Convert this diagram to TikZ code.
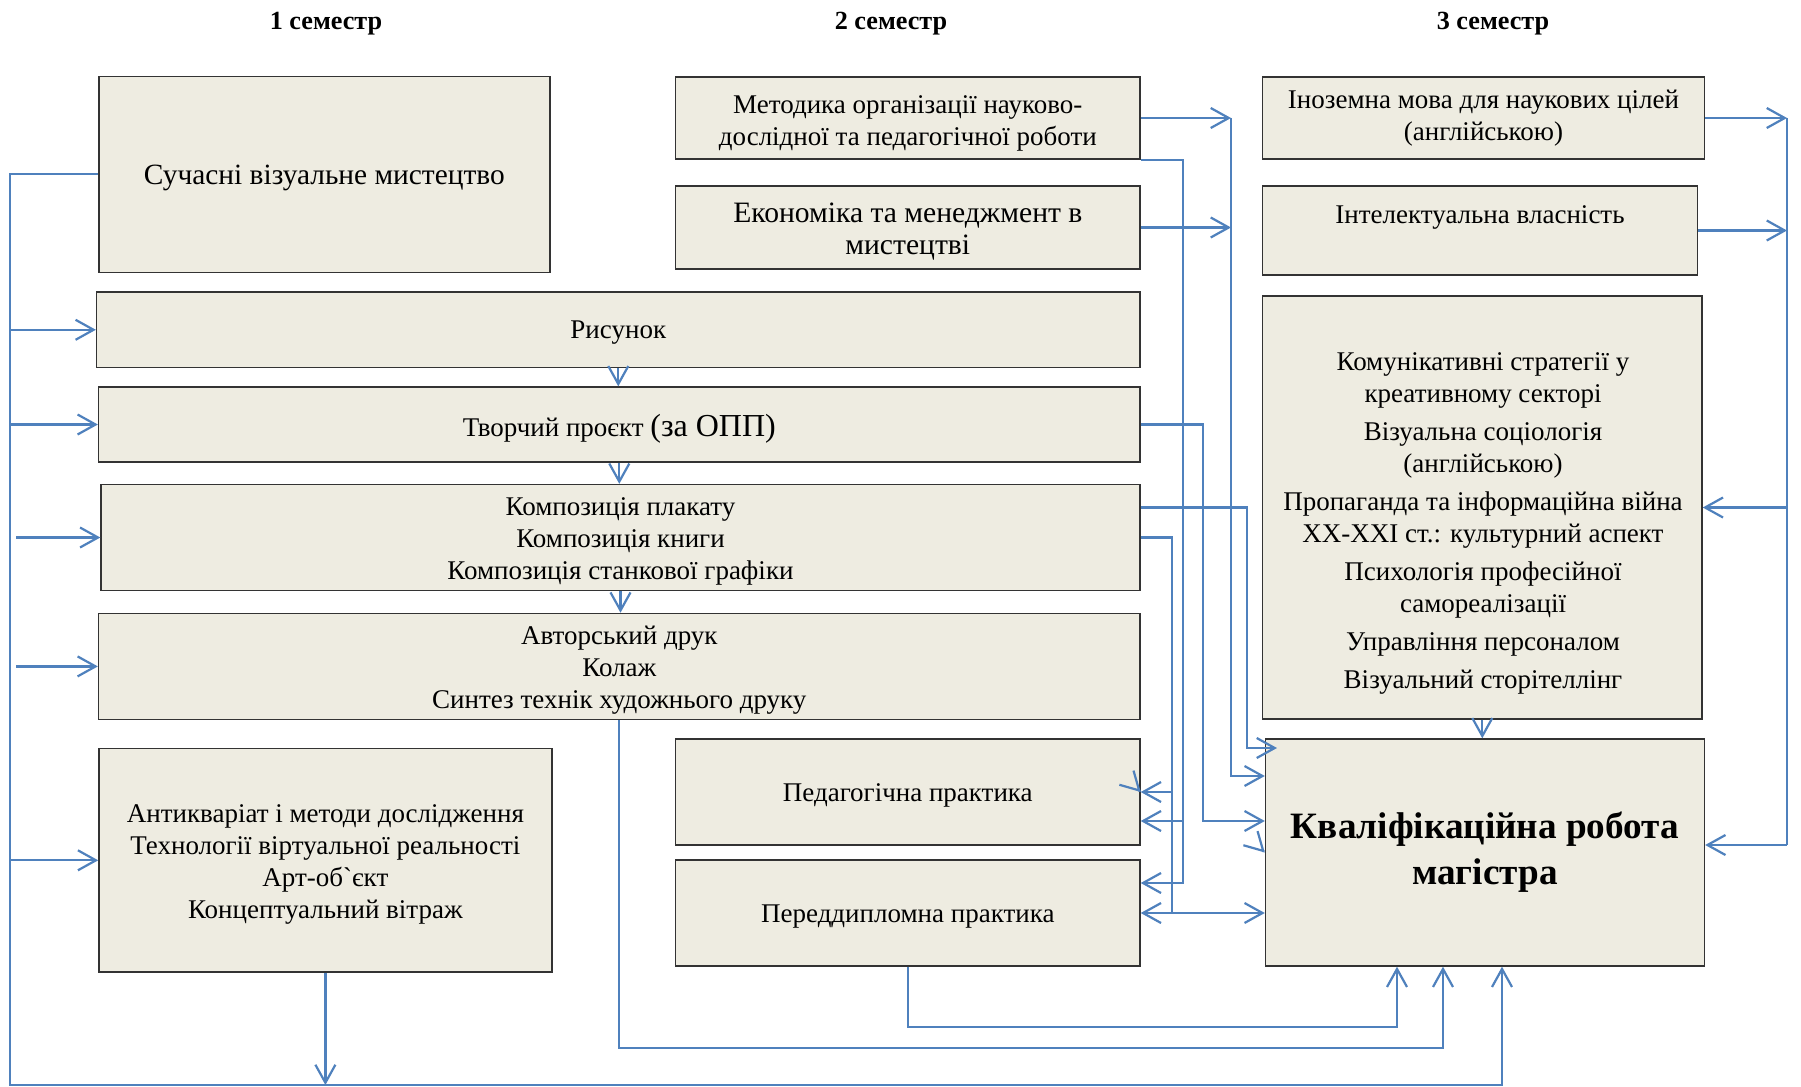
\documentclass[tikz,border=0pt]{standalone}
\usepackage{fontspec}
\setmainfont{Liberation Serif}
\usepackage{tikz}
\usetikzlibrary{arrows.meta}
\usetikzlibrary{positioning}
\usepackage[dvipsnames]{xcolor}
\definecolor{boxfill}{HTML}{EEECE1}
\definecolor{linkblue}{HTML}{4F81BD}
\newcommand{\lnstrut}[1][0.95em]{\rule{0pt}{#1}}

\begin{document}
\begin{tikzpicture}[x=0.5pt, y=-0.5pt,
        subj/.style={rectangle, draw=black!80, line width=0.7pt, fill=boxfill, align=center, inner sep=2pt, font=\fontsize{13.5}{16}\selectfont,
            execute at begin node={\rule[-0.216em]{0pt}{1.107em}}},
        size/.style 2 args={minimum width=#1*0.5pt, minimum height=#2*0.5pt},
        sem/.style={font=\fontsize{13.1}{16}\selectfont\bfseries},
        link/.style={draw=linkblue, line width=1.1pt},
        >={Straight Barb[length=9pt,width=10pt]}]

            \path[use as bounding box, fill=white] (0,0) rectangle (1801,1087);

            \node[sem] (sem1) at (326,23.3) {1 семестр};
            \node[sem] (sem2) at (891,23.3) {2 семестр};
            \node[sem] (sem3) at (1493,23.3) {3 семестр};

            \node[subj, size={451}{196}, font=\fontsize{14.7}{16}\selectfont] (suchasni) at (324.4,174.2) {Сучасні візуальне мистецтво};
            \node[subj, size={464.5}{82}] (metod) at (907.8,118) {\lnstrut[1.1em]Методика організації науково-\\дослідної та педагогічної роботи};
            \node[subj, size={464.5}{83}, font=\fontsize{14.8}{16}\selectfont] (ekon) at (907.8,227.5) {\lnstrut[0.97em]Економіка та менеджмент в\\мистецтві};
            \node[subj, size={442}{82}, execute at begin node={}] (inozem) at (1483.5,118) {Іноземна мова для наукових цілей\\(англійською)};
            \node[subj, size={435}{89}] (intel) at (1480,230.5) {};
            \node[font=\fontsize{13.5}{16}\selectfont] (intel-t) at (1480,217.5) {Інтелектуальна власність};

            \node[subj, size={1043.5}{75.5}] (risunok) at (618.3,329.8) {Рисунок};
            \node[subj, size={1041.5}{75}, execute at begin node={\rule[-3.5pt]{0pt}{19pt}}] (tvorch) at (619.3,424.5) {Творчий проєкт {\fontsize{16}{16}\selectfont(за ОПП)}};
            \node[subj, size={1039}{106}] (kompoz) at (620.5,537.5) {\lnstrut Композиція плакату\\Композиція книги\\Композиція станкової графіки};
            \node[subj, size={1041.5}{106}] (avtor) at (619.3,666.4) {\lnstrut Авторський друк\\Колаж\\Синтез технік художнього друку};

            \node[subj, size={439.5}{423}] (komun) at (1482.3,507.5) {};
            \node[align=center, font=\fontsize{13.5}{16}\selectfont] (komun-t) at (1483,523.8) {Комунікативні стратегії у\\креативному секторі\\[3pt]Візуальна соціологія\\(англійською)\\[3pt]Пропаганда та інформаційна війна\\XX-XXI ст.: культурний аспект\\[3pt]Психологія професійної\\самореалізації\\[3pt]Управління персоналом\\[3pt]Візуальний сторітеллінг};

            \node[subj, size={453}{223.5}] (antik) at (325.4,860.3) {\lnstrut Антикваріат і методи дослідження\\Технології віртуальної реальності\\Арт-об\textasciigrave єкт\\Концептуальний вітраж};
            \node[subj, size={464.5}{106}] (pedag) at (907.8,792) {Педагогічна практика};
            \node[subj, size={464.5}{106}] (peredd) at (907.8,913) {Переддипломна практика};
            \node[subj, size={439}{227}, font=\fontsize{18.6}{23}\selectfont\bfseries, execute at begin node={}] (kval) at (1485,852.5) {Кваліфікаційна робота\\магістра};

            \coordinate (lbot) at (10,1085);
            \coordinate (lbot2) at (16,1085);
            \coordinate (c1) at (1397,1027);
            \coordinate (c2) at (1443,1048);
            \coordinate (c3) at (1502,1085);
            \coordinate (rtop) at (1787,118);
            \coordinate (rbot) at (1787,845);
            \coordinate (la) at (1183,883);
            \coordinate (la1) at (1183,821);
            \coordinate (lb) at (1231,776);
            \coordinate (lc) at (1203,821);
            \coordinate (ld) at (1247,748);
            \coordinate (le) at (1172,913);

            \begin{scope}[link]
            \draw[->] (suchasni.west) -| (lbot) -- (c3) -- (c3 |- kval.south);
            \foreach \n in {risunok,tvorch,antik}{
                \draw[->] (\n.west -| lbot) -- (\n.west);
            }
            \foreach \n in {kompoz,avtor}{
                \draw[->] (\n.west -| lbot2) -- (\n.west);
            }
            \draw[->] (antik.south) -- (antik.south |- lbot);

            \foreach \s/ \d in {risunok/tvorch,tvorch/kompoz,kompoz/avtor}{
                \draw[->] (\s.south) -- (\s.south |- \d.north);
            }
            \draw[->] (avtor.south) |- (c2) -- (c2 |- kval.south);
            \draw[->] (peredd.south) |- (c1) -- (c1 |- kval.south);

            \draw[->] (metod.east) -- (metod.east -| lb);
            \draw[->] (ekon.east) -- (ekon.east -| lb);
            \draw[->] (metod.east -| lb) -- (lb) -- (lb -| kval.west);
            \draw[->] (metod.south east) -| (la) -- (la -| peredd.east);
            \draw[->] (la1) -- (la1 -| pedag.east);
            \draw[->] (tvorch.east) -| (lc) -- (lc -| kval.west);
            \draw[->] ([yshift=15pt]kompoz.east) -| (ld) -- ++(30,0);
            \draw (kompoz.east) -| (le);
            \draw[->] (pedag.east -| le) -- (pedag.east);
            \draw[<->] (le -| peredd.east) -- (le -| kval.west);

            \draw[->] (inozem.east) -- (inozem.east -| rtop);
            \draw[->] (intel.east) -- (intel.east -| rtop);
            \draw (rtop) -- (rbot);
            \draw[->] (komun.east -| rtop) -- (komun.east);
            \draw[->] (rbot) -- (rbot -| kval.east);
            \draw[->] (komun.south) -- (komun.south |- kval.north);

            \draw[->] (pedag.east) ++(-1,-1) -- ++(1,1);
            \draw[->] (kval.west) ++(-1,-1) -- ++(1,1);
            \end{scope}

    \end{tikzpicture}
\end{document}
